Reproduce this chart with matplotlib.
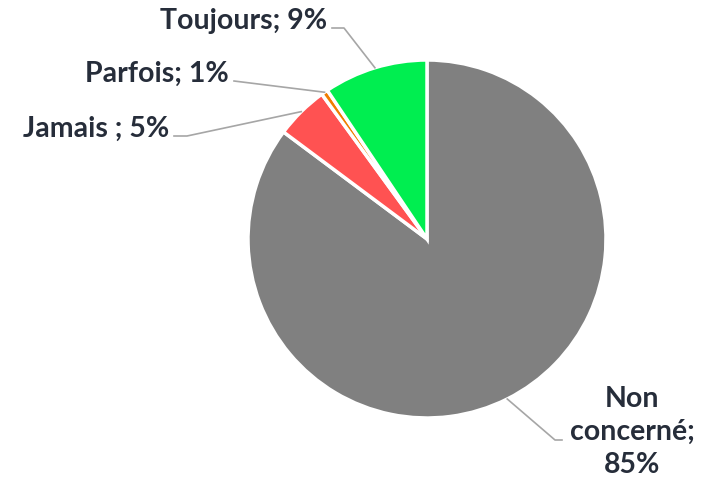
import numpy as np
import matplotlib.pyplot as plt

plt.rcParams['font.family'] = ['Lato', 'DejaVu Sans']

# données (parts estimées, étiquettes arrondies comme sur l'original)
categories = ['Non concerné', 'Jamais ', 'Parfois', 'Toujours']
values = [85.2, 4.8, 0.6, 9.4]
labels = ['Non\nconcerné;\n85%', 'Jamais ; 5%', 'Parfois; 1%', 'Toujours; 9%']
colors = ['#808080', '#ff5252', '#f07d00', '#00ee50']

W, H = 705, 483
fig = plt.figure(figsize=(W / 100, H / 100), dpi=100)
ax = fig.add_axes([0, 0, 1, 1])

cx, cy, r = 427, H - 239, 179
wedges, _ = ax.pie(values, colors=colors, startangle=90, counterclock=False,
                   center=(cx, cy), radius=r, frame=True,
                   wedgeprops=dict(edgecolor='white', linewidth=2.5))
ax.set_xlim(0, W)
ax.set_ylim(0, H)
ax.axis('off')

# positions des étiquettes (pixels) : (x texte, y texte, alignement, coude x)
layout = {
    'Toujours': (327, 21, 'right', 344),
    'Parfois': (229, 74, 'right', 234),
    'Jamais ': (169, 129, 'right', 187),
    'Non concerné': (632, 432, 'center', 562),
}
txt_color = '#262d3a'
line_color = '#a6a6a6'

for w, cat, lab in zip(wedges, categories, labels):
    mid = np.deg2rad((w.theta1 + w.theta2) / 2)
    px, py = cx + r * np.cos(mid), cy + r * np.sin(mid)
    tx, ty, ha, ex = layout[cat]
    ty = H - ty
    ax.text(tx, ty, lab, ha=ha, va='center', fontsize=20.5, fontweight='bold',
            color=txt_color, linespacing=1.32)
    if cat == 'Non concerné':
        ly = H - 440
        ax.plot([px, 555, 562], [py, ly, ly], color=line_color, lw=1.2)
    elif cat == 'Parfois':
        ax.plot([ex, px], [ty - 7, py], color=line_color, lw=1.2)
    else:
        ax.plot([tx + 5, ex, px], [ty - 7, ty - 7, py], color=line_color, lw=1.2)

fig.savefig('out.png', dpi=100)
